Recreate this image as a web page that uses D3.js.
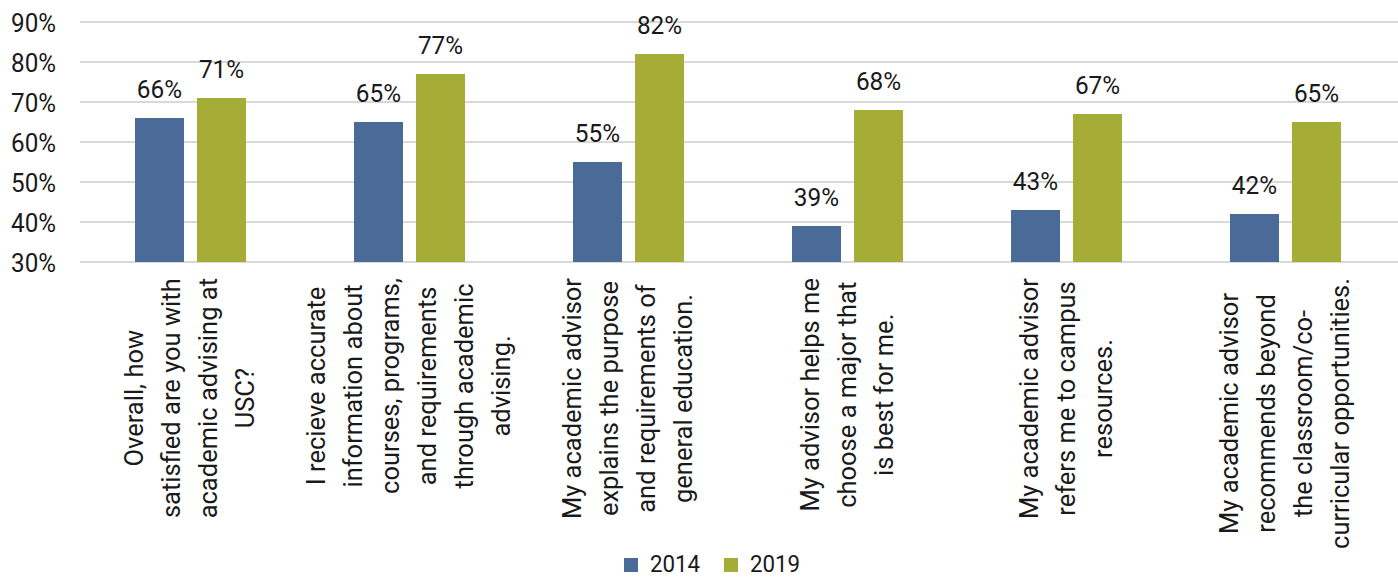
<!DOCTYPE html>
<html>
<head>
<meta charset="utf-8">
<script src="https://cdn.jsdelivr.net/npm/d3@7"></script>
<style>
  html, body { margin: 0; padding: 0; background: #fff; }
  svg { display: block; }
  text { font-family: Roboto, "Liberation Sans", Arial, sans-serif; fill: #1a1a1a; }
</style>
</head>
<body>
<svg id="chart" width="1398" height="577"></svg>
<script>
const categories = [
  ["Overall, how", "satisfied are you with", "academic advising at", "USC?"],
  ["I recieve accurate", "information about", "courses, programs,", "and requirements", "through academic", "advising."],
  ["My academic advisor", "explains the purpose", "and requirements of", "general education."],
  ["My advisor helps me", "choose a major that", "is best for me."],
  ["My academic advisor", "refers me to campus", "resources."],
  ["My academic advisor", "recommends beyond", "the classroom/co-", "curricular opportunities."]
];
const series = ["2014", "2019"];
const values2014 = [66, 65, 55, 39, 43, 42];
const values2019 = [71, 77, 82, 68, 67, 65];
const yTicks = [30, 40, 50, 60, 70, 80, 90];
const colors = { "2014": "#4A6A97", "2019": "#A5AD37" };

const svg = d3.select("#chart");
const plotLeft = 81, plotRight = 1395, plotTop = 22, plotBottom = 262;

const x0 = d3.scaleBand().domain(d3.range(categories.length)).range([plotLeft, plotRight]).padding(0);
const bw = x0.bandwidth();
const x1 = d3.scaleBand().domain(series).range([bw / 2 - 55.5, bw / 2 + 55.5]).paddingInner(0.21);
const y = d3.scaleLinear().domain([30, 90]).range([plotBottom, plotTop]);

// gridlines
svg.append("g").selectAll("line").data(yTicks).join("line")
  .attr("x1", 80).attr("x2", 1398)
  .attr("y1", d => y(d)).attr("y2", d => y(d))
  .attr("stroke", "#D9D9D9").attr("stroke-width", 2);

// y axis labels
const yAxis = d3.axisLeft(y).tickValues(yTicks).tickFormat(d => d + "%").tickSize(0).tickPadding(0);
const ya = svg.append("g").attr("transform", "translate(56,0)").call(yAxis);
ya.select(".domain").remove();
ya.selectAll("text")
  .attr("font-size", 25.5).attr("fill", "#1a1a1a")
  .attr("x", 0).attr("dy", "0.36em")
  .attr("transform", "scale(0.95,1)")
  .style("font-family", 'Roboto, "Liberation Sans", Arial, sans-serif');

const data = categories.map((c, i) => ({ i, vals: [{ s: "2014", v: values2014[i] }, { s: "2019", v: values2019[i] }] }));

const groups = svg.append("g").selectAll("g").data(data).join("g")
  .attr("transform", d => `translate(${x0(d.i)},0)`);

groups.selectAll("rect").data(d => d.vals).join("rect")
  .attr("x", d => x1(d.s)).attr("width", x1.bandwidth())
  .attr("y", d => y(d.v)).attr("height", d => y(30) - y(d.v))
  .attr("fill", d => colors[d.s]);

groups.selectAll("text.val").data(d => d.vals).join("text")
  .attr("class", "val")
  .attr("transform", d => `translate(${x1(d.s) + x1.bandwidth() / 2},${y(d.v) - 20}) scale(0.92,1)`)
  .attr("text-anchor", "middle")
  .attr("font-size", 26.5)
  .text(d => d.v + "%");

// category labels (rotated)
const lineH = 37;
const labelTop = 278;
const LFS = 25.5;
svg.append("g").selectAll("g").data(categories).join("g")
  .each(function (lines, i) {
    const g = d3.select(this);
    const cx = x0(i) + bw / 2;
    const tmp = g.append("text").attr("font-size", LFS);
    let maxW = 0;
    lines.forEach(l => { tmp.text(l); maxW = Math.max(maxW, tmp.node().getComputedTextLength()); });
    tmp.remove();
    const cy = labelTop + maxW / 2;
    const n = lines.length;
    lines.forEach((l, k) => {
      const lx = cx + (k - (n - 1) / 2) * lineH;
      g.append("text")
        .attr("transform", `translate(${lx + 8},${cy}) rotate(-90)`)
        .attr("text-anchor", "middle")
        .attr("font-size", LFS)
        .text(l);
    });
  });

// legend
const legend = svg.append("g");
const legItems = [{ s: "2014", x: 624 }, { s: "2019", x: 724 }];
legItems.forEach(it => {
  legend.append("rect").attr("x", it.x).attr("y", 558).attr("width", 14).attr("height", 14).attr("fill", colors[it.s]);
  legend.append("text").attr("transform", `translate(${it.x + 26},572) scale(0.93,1)`).attr("font-size", 24).text(it.s);
});
</script>
</body>
</html>
